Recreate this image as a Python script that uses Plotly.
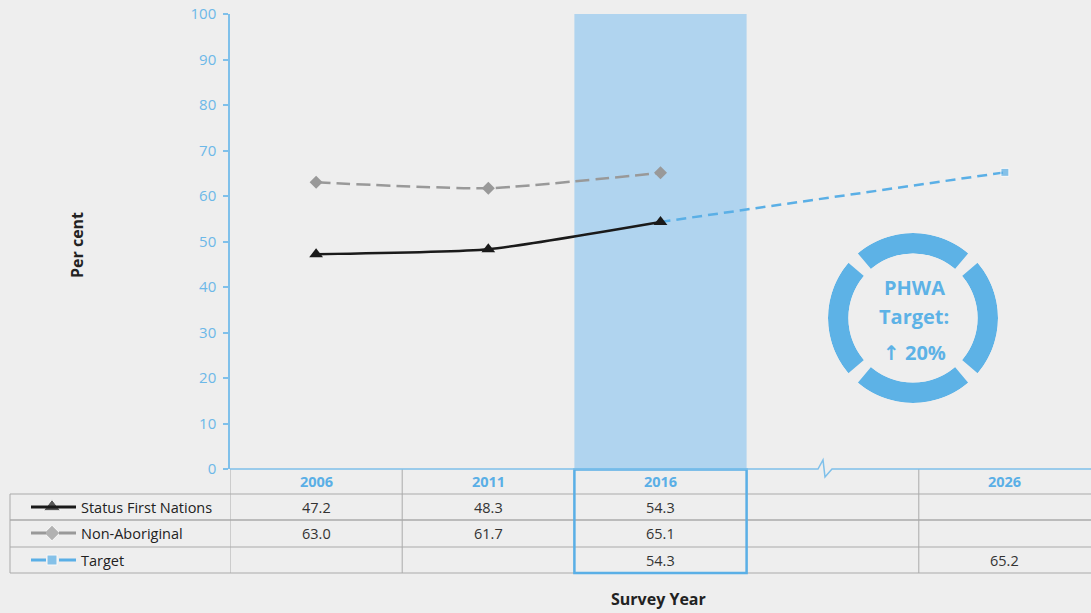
import plotly.graph_objects as go

# ---- data ----
years = ["2006", "2011", "2016", "", "2026"]
status_first_nations = [47.2, 48.3, 54.3, None, None]
non_aboriginal = [63.0, 61.7, 65.1, None, None]
target = [None, None, 54.3, None, 65.2]
y_ticks = [0, 10, 20, 30, 40, 50, 60, 70, 80, 90, 100]

W, H = 1091, 613
BG = "#eeeeee"
BLUE = "#5aafe6"
BLUE_TXT = "#6cb8e8"
GRAY = "#999999"
BLACK = "#1a1a1a"
GRID = "#aaaaaa"
FONT = "Open Sans"

# plot area in page pixels
PX_L, PX_R, PX_T, PX_B = 230, 1091, 14, 469
xpos = list(range(len(years)))

fig = go.Figure()

# target first so the triangle of 2016 sits on top
fig.add_trace(go.Scatter(
    x=xpos, y=target, mode="lines+markers", connectgaps=True,
    line=dict(color=BLUE, width=2.5, dash="10px,6px"),
    marker=dict(symbol="square", color=BLUE,
                size=[0 if (v is None or i < len(target) - 1) else 8 for i, v in enumerate(target)]),
    name="Target", showlegend=False, xaxis="x", yaxis="y"))
fig.add_trace(go.Scatter(
    x=xpos, y=non_aboriginal, mode="lines+markers",
    line=dict(color=GRAY, width=2.5, dash="14px,6px", shape="spline", smoothing=0.5),
    marker=dict(symbol="diamond", color=GRAY, size=10),
    name="Non-Aboriginal", showlegend=False, xaxis="x", yaxis="y"))
fig.add_trace(go.Scatter(
    x=xpos, y=status_first_nations, mode="lines+markers",
    line=dict(color=BLACK, width=2.5, shape="spline", smoothing=0.5),
    marker=dict(symbol="triangle-up", color=BLACK, size=12),
    name="Status First Nations", showlegend=False, xaxis="x", yaxis="y"))

# ---- table rows (page-pixel overlay axes x2/y2) ----
row_names = ["Status First Nations", "Non-Aboriginal", "Target"]
row_series = [status_first_nations, non_aboriginal, target]
row_colors = [BLACK, GRAY, BLUE]
row_symbols = ["triangle-up", "diamond", "square"]
row_sizes = [15, 12, 10]
row_dash = ["solid", "dash", "dash"]
row_y = [507, 533, 560]
header_y = 481

shapes = []
annotations = []

# legend key markers
fig.add_trace(go.Scatter(
    x=[52] * 3, y=row_y, mode="markers",
    marker=dict(symbol=row_symbols, color=row_colors, size=row_sizes),
    showlegend=False, hoverinfo="skip", xaxis="x2", yaxis="y2"))

for name, ser, col, dash, ry in zip(row_names, row_series, row_colors, row_dash, row_y):
    if dash == "solid":
        shapes.append(dict(type="line", xref="x2", yref="y2", x0=31, x1=76, y0=ry, y1=ry,
                           line=dict(color=col, width=3)))
    else:
        for a, b in ((31, 46), (59, 76)):
            shapes.append(dict(type="line", xref="x2", yref="y2", x0=a, x1=b, y0=ry, y1=ry,
                               line=dict(color=col, width=3)))
    annotations.append(dict(text=name, xref="x2", yref="y2", x=79, y=ry, xanchor="left",
                            yanchor="middle", showarrow=False,
                            font=dict(family=FONT, size=14.5, color="#222222")))
    for i, v in enumerate(ser):
        if v is None:
            continue
        annotations.append(dict(text=f"{v:.1f}", xref="x", yref="y2", x=i, y=ry,
                                xanchor="center", yanchor="middle", showarrow=False,
                                font=dict(family=FONT, size=14.5, color="#333333")))

# header row: survey years
for i, yr in enumerate(years):
    if yr:
        annotations.append(dict(text=f"<b>{yr}</b>", xref="x", yref="y2", x=i, y=header_y,
                                xanchor="center", yanchor="middle", showarrow=False,
                                font=dict(family=FONT, size=14.5, color=BLUE)))

# table grid
for i in range(len(years)):
    shapes.append(dict(type="line", xref="x", yref="y2", x0=i - 0.5, x1=i - 0.5, y0=469, y1=573,
                       line=dict(color=GRID, width=1)))
shapes.append(dict(type="line", xref="x2", yref="y2", x0=10, x1=10, y0=494, y1=573,
                   line=dict(color=GRID, width=1)))
for hy in (494, 520, 547, 573):
    shapes.append(dict(type="line", xref="x2", yref="y2", x0=10, x1=W, y0=hy, y1=hy,
                       line=dict(color=GRID, width=1.3 if hy == 520 else 1)))

# highlighted 2016 column
shapes.append(dict(type="rect", xref="x", yref="y", x0=1.5, x1=2.5, y0=0, y1=100,
                   fillcolor="#b0d4ef", line=dict(width=0), layer="below"))
shapes.append(dict(type="rect", xref="x", yref="y2", x0=1.5, x1=2.5, y0=469.5, y1=573,
                   fillcolor="rgba(0,0,0,0)", line=dict(color=BLUE, width=2.5)))

# x axis line with break mark between 2016 and 2026
shapes.append(dict(type="path", xref="x2", yref="y2",
                   path="M 230,469 L 818,469 L 823,460 L 825,477 L 832,469 L 1091,469",
                   line=dict(color="#7fc0ea", width=1.5)))

# axis titles
annotations.append(dict(text="<b>Per cent</b>", xref="x2", yref="y2", x=77, y=245,
                        textangle=-90, showarrow=False, xanchor="center", yanchor="middle",
                        font=dict(family=FONT, size=16, color="#222222")))
annotations.append(dict(text="<b>Survey Year</b>", xref="x2", yref="y2", x=658, y=599,
                        showarrow=False, xanchor="center", yanchor="middle",
                        font=dict(family=FONT, size=16, color="#222222")))

# PHWA target badge
BADGE = "#5db2e6"
cx, cy, R = 913, 318, 85
fig.add_trace(go.Barpolar(
    r=[1, 1, 1, 1], theta=[0, 90, 180, 270], width=[81, 81, 81, 81],
    marker=dict(color=BADGE, line=dict(width=0)),
    showlegend=False, hoverinfo="skip", subplot="polar"))
badge_lines = ["PHWA", "Target:",
               "<span style='font-family:DejaVu Sans'>↑</span> 20%"]
for txt, ty in zip(badge_lines, (287, 316, 352)):
    annotations.append(dict(text=f"<b>{txt}</b>", xref="x2", yref="y2", x=cx + 1, y=ty,
                            showarrow=False, xanchor="center", yanchor="middle",
                            font=dict(family=FONT, size=20, color=BADGE)))

fig.update_layout(
    width=W, height=H,
    margin=dict(l=0, r=0, t=0, b=0, autoexpand=False),
    paper_bgcolor=BG, plot_bgcolor="rgba(0,0,0,0)",
    showlegend=False,
    xaxis=dict(domain=[PX_L / W, PX_R / W], range=[-0.5, len(years) - 0.5],
               showticklabels=False, showgrid=False, zeroline=False, showline=False,
               ticks="", fixedrange=True, anchor="y", automargin=False),
    yaxis=dict(domain=[(H - PX_B) / H, (H - PX_T) / H], range=[0, 100],
               tickvals=y_ticks, ticks="outside", ticklen=5, tickcolor="#7fc0ea",
               tickwidth=1.5, showline=True, linecolor="#7fc0ea", linewidth=1.5,
               showgrid=False, zeroline=False, automargin=False,
               tickfont=dict(family=FONT, size=15, color=BLUE_TXT), ticklabelstandoff=4,
               fixedrange=True, anchor="x"),
    xaxis2=dict(domain=[0, 1], range=[0, W], visible=False, fixedrange=True, anchor="y2",
                automargin=False),
    yaxis2=dict(domain=[0, 1], range=[H, 0], visible=False, fixedrange=True, anchor="x2",
                automargin=False),
    polar=dict(domain=dict(x=[(cx - R) / W, (cx + R) / W],
                           y=[(H - cy - R) / H, (H - cy + R) / H]),
               hole=0.76, bgcolor="rgba(0,0,0,0)",
               radialaxis=dict(visible=False, range=[0, 1]),
               angularaxis=dict(visible=False)),
    shapes=shapes, annotations=annotations,
)

fig.write_html("out.html")
